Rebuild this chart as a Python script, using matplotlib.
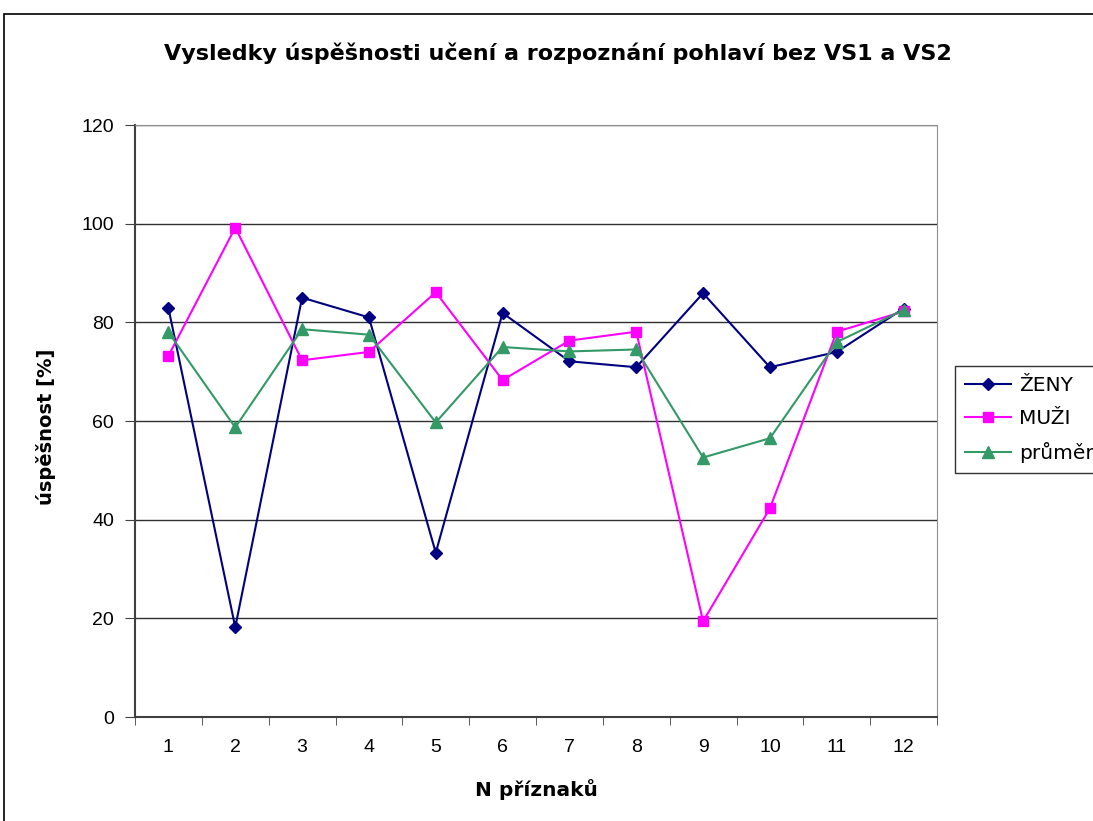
import numpy as np
import matplotlib
matplotlib.use("Agg")
import matplotlib.pyplot as plt
from matplotlib.patches import Rectangle

plt.rcParams['font.family'] = ['Liberation Sans', 'DejaVu Sans']

# values
n_priznaku = [1, 2, 3, 4, 5, 6, 7, 8, 9, 10, 11, 12]
zeny = [82.9, 18.2, 85.0, 81.0, 33.3, 81.9, 72.1, 70.9, 85.9, 70.9, 74.0, 82.8]
muzi = [73.2, 99.2, 72.3, 74.0, 86.1, 68.3, 76.3, 78.1, 19.4, 42.3, 78.1, 82.2]
prumer = [78.0, 58.7, 78.6, 77.5, 59.7, 75.0, 74.1, 74.5, 52.6, 56.5, 76.0, 82.5]
y_ticks = [0, 20, 40, 60, 80, 100, 120]

fig = plt.figure(figsize=(10.93, 8.21), dpi=100)
ax = fig.add_axes([135/1093, 104/821, 802/1093, 592/821])

ax.plot(n_priznaku, zeny, color='#000080', marker='D', markersize=6, lw=1.5, label='ŽENY')
ax.plot(n_priznaku, muzi, color='#FF00FF', marker='s', markersize=6.5, lw=1.5, label='MUŽI')
ax.plot(n_priznaku, prumer, color='#339966', marker='^', markersize=8, lw=1.5, label='průměr')

ax.set_xlim(0.5, 12.5)
ax.set_ylim(0, 120)
ax.set_yticks(y_ticks)
ax.set_xticks(n_priznaku)
ax.set_xticks(np.arange(0.5, 13, 1), minor=True)
ax.tick_params(axis='x', which='major', length=0, labelsize=14, pad=16)
ax.tick_params(axis='x', which='minor', length=6, direction='out', color='#404040')
ax.tick_params(axis='y', length=7, direction='out', labelsize=14, pad=8, color='#404040')
ax.yaxis.grid(True, color='#303030', lw=1)
ax.set_axisbelow(True)
for side in ['top', 'right']:
    ax.spines[side].set_color('#909090')
for side in ['left', 'bottom']:
    ax.spines[side].set_color('#404040')
    ax.spines[side].set_linewidth(1.5)

bold_font = ['DejaVu Sans']
fig.text(558/1093, 1 - 53/821, 'Vysledky úspěšnosti učení a rozpoznání pohlaví bez VS1 a VS2',
         ha='center', va='center', fontsize=16, fontweight='bold', family=bold_font)
fig.text(46/1093, 1 - 427/821, 'úspěšnost [%]', rotation=90, ha='center', va='center',
         fontsize=14, fontweight='bold', family=bold_font)
fig.text(536/1093, 1 - 790/821, 'N příznaků', ha='center', va='center',
         fontsize=14.5, fontweight='bold', family=bold_font)

leg = fig.legend(loc='upper left', bbox_to_anchor=(955/1093, 1 - 366/821),
                 prop={'family': 'DejaVu Sans', 'size': 14.5},
                 frameon=True, fancybox=False, edgecolor='black', handlelength=2.3,
                 borderpad=0.5, labelspacing=0.7, handletextpad=0.4, borderaxespad=0)
leg.get_frame().set_linewidth(1)

# outer chart frame
fig.patches.append(Rectangle((4/1093, -0.1), 1.2, 1.1 - 14/821, transform=fig.transFigure,
                             fill=False, edgecolor='black', lw=1.2))

fig.savefig('out.png', dpi=100)
